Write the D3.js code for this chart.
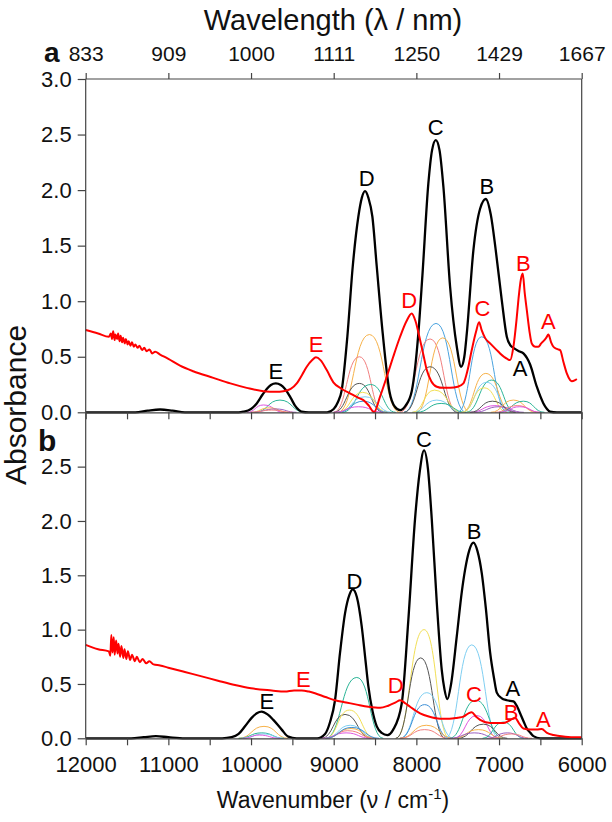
<!DOCTYPE html>
<html>
<head>
<meta charset="utf-8">
<script src="https://cdn.jsdelivr.net/npm/d3@7"></script>
<style>
  body { margin: 0; background: #fff; }
  text { font-family: "Liberation Sans", Arial, Helvetica, sans-serif; }
</style>
</head>
<body>
<div id="chart"></div>
<script>
// wavenumber ticks (cm-1) and matching wavelength labels (nm)
const wnTicks = [12000, 11000, 10000, 9000, 8000, 7000, 6000];
const wlLabels = ["833", "909", "1000", "1111", "1250", "1429", "1667"];
const minorTicks = [12000, 11500, 11000, 10500, 10000, 9500, 9000, 8500, 8000, 7500, 7000, 6500, 6000];
const yTicksA = [0, 0.5, 1, 1.5, 2, 2.5, 3];
const yTicksB = [0, 0.5, 1, 1.5, 2, 2.5];

// panel a: fitted spectrum (black) and measured spectrum (red), [wavenumber, absorbance]
const fitA = [[12000,0],[11400,0],[11250,0.015],[11100,0.025],[10950,0.015],[10800,0],[10150,0],[10093,0.005],
  [10000,0.03],[9931,0.08],[9860,0.16],[9810,0.21],[9760,0.245],[9701,0.26],[9640,0.245],[9589,0.21],[9520,0.13],
  [9468,0.06],[9420,0.02],[9387,0.005],[9300,0],[9080,0],[9000,0.03],[8950,0.09],[8903,0.2],[8835,0.68],[8770,1.31],
  [8702,1.76],[8660,1.93],[8621,1.99],[8580,1.93],[8532,1.76],[8479,1.31],[8407,0.71],[8326,0.19],[8260,0.05],
  [8197,0.02],[8130,0.06],[8056,0.19],[7976,0.71],[7927,1.23],[7855,2.06],[7810,2.36],[7765,2.45],[7720,2.36],
  [7673,2.03],[7592,1.13],[7511,0.59],[7459,0.41],[7420,0.5],[7390,0.71],[7310,1.46],[7230,1.83],[7160,1.92],
  [7100,1.78],[7040,1.46],[6967,1.01],[6906,0.68],[6860,0.6],[6826,0.58],[6760,0.55],[6705,0.53],[6624,0.43],
  [6543,0.23],[6463,0.08],[6420,0.03],[6382,0.005],[6300,0],[6000,0]];

const measA = [[12000,0.74],[11850,0.71],[11720,0.68],[11695,0.71],[11682,0.66],[11668,0.73],[11650,0.65],[11641,0.7],
  [11620,0.66],[11608,0.71],[11590,0.64],[11578,0.69],[11560,0.63],[11548,0.67],[11527,0.62],[11514,0.66],[11492,0.61],
  [11480,0.64],[11458,0.6],[11440,0.63],[11418,0.59],[11400,0.61],[11372,0.58],[11350,0.6],[11318,0.56],[11293,0.58],
  [11262,0.55],[11228,0.565],[11195,0.53],[11160,0.545],[11100,0.52],[11000,0.48],[10859,0.42],[10700,0.37],[10456,0.31],[10250,0.26],[10052,0.22],
  [9851,0.19],[9700,0.185],[9609,0.19],[9520,0.21],[9447,0.26],[9380,0.34],[9326,0.41],[9260,0.47],[9215,0.495],
  [9160,0.47],[9084,0.38],[9004,0.27],[8900,0.21],[8802,0.17],[8700,0.13],[8641,0.11],[8575,0.06],[8512,0.0],
  [8440,0.14],[8358,0.32],[8280,0.5],[8197,0.68],[8120,0.82],[8056,0.89],[8010,0.82],[7955,0.65],[7910,0.5],
  [7874,0.38],[7820,0.28],[7753,0.23],[7680,0.22],[7592,0.22],[7500,0.23],[7431,0.26],[7380,0.38],[7330,0.56],
  [7280,0.72],[7241,0.81],[7210,0.74],[7169,0.67],[7108,0.62],[7027,0.56],[6987,0.53],[6900,0.48],[6866,0.47],
  [6826,0.59],[6790,0.82],[6766,1.01],[6735,1.2],[6713,1.25],[6690,1.08],[6664,0.92],[6630,0.72],[6604,0.62],
  [6560,0.59],[6524,0.59],[6490,0.62],[6463,0.64],[6430,0.67],[6403,0.7],[6370,0.63],[6342,0.59],[6300,0.57],
  [6261,0.56],[6220,0.45],[6180,0.35],[6140,0.29],[6120,0.28],[6080,0.29],[6059,0.3]];

// panel b
const fitB = [[12000,0],[11450,0],[11300,0.01],[11150,0.02],[11000,0.01],[10800,0],[10350,0],[10234,0.01],[10150,0.04],
  [10073,0.11],[9990,0.19],[9930,0.23],[9871,0.245],[9800,0.22],[9730,0.17],[9629,0.08],[9549,0.015],[9450,0],
  [9200,0],[9105,0.04],[9044,0.15],[8984,0.35],[8923,0.79],[8863,1.15],[8810,1.32],[8770,1.37],[8720,1.3],
  [8661,1.03],[8620,0.75],[8581,0.48],[8530,0.25],[8479,0.11],[8420,0.05],[8351,0.03],[8280,0.08],[8177,0.32],
  [8097,1.09],[8016,2.02],[7960,2.45],[7907,2.65],[7860,2.48],[7814,2.02],[7753,1.25],[7693,0.63],[7660,0.45],
  [7625,0.36],[7580,0.5],[7511,0.94],[7450,1.35],[7411,1.55],[7360,1.73],[7310,1.8],[7260,1.72],[7209,1.52],
  [7160,1.2],[7108,0.79],[7060,0.55],[7027,0.42],[6970,0.37],[6906,0.35],[6826,0.34],[6780,0.29],[6745,0.23],
  [6700,0.15],[6664,0.09],[6620,0.05],[6584,0.02],[6500,0],[6000,0]];

const measB = [[12000,0.86],[11850,0.82],[11720,0.8],[11702,0.76],[11690,0.95],[11676,0.79],[11661,0.93],[11650,0.77],
  [11632,0.9],[11615,0.78],[11603,0.87],[11584,0.75],[11568,0.85],[11545,0.74],[11531,0.82],[11508,0.73],[11490,0.8],
  [11462,0.72],[11441,0.77],[11405,0.71],[11382,0.75],[11345,0.7],[11311,0.73],[11268,0.69],[11230,0.71],[11180,0.68],
  [11100,0.67],[11001,0.65],[10800,0.61],[10597,0.57],[10400,0.53],[10194,0.49],[10000,0.46],[9750,0.44],[9589,0.43],
  [9480,0.44],[9387,0.44],[9300,0.43],[9226,0.415],[9100,0.38],[8984,0.35],[8850,0.33],[8721,0.31],[8580,0.29],
  [8439,0.28],[8340,0.3],[8250,0.33],[8197,0.35],[8130,0.32],[8076,0.29],[7955,0.23],[7850,0.2],[7713,0.18],
  [7600,0.18],[7500,0.19],[7431,0.2],[7370,0.23],[7330,0.24],[7280,0.2],[7229,0.17],[7108,0.14],[7000,0.14],
  [6947,0.14],[6880,0.16],[6806,0.19],[6760,0.14],[6705,0.09],[6620,0.08],[6543,0.08],[6483,0.085],[6420,0.05],
  [6342,0.03],[6200,0.015],[6060,0.01],[6000,0.01]];

// component bands: [left foot, centre, right foot, height, colour]
const bandsA = [
  [9950,9650,9350,0.11,"#2bb597"],[10050,9850,9600,0.066,"#e055e0"],[10000,9780,9550,0.04,"#f7b24a"],
  [10000,9700,9450,0.03,"#9b5fc0"],[10000,9750,9500,0.02,"#f28080"],
  [8950,8568,8200,0.70,"#f7b24a"],[9000,8690,8400,0.50,"#f28080"],[9000,8690,8400,0.26,"#555555"],
  [8900,8552,8250,0.25,"#2bb597"],[8950,8621,8300,0.14,"#7fcff2"],[8950,8650,8350,0.18,"#f2df55"],
  [8950,8640,8350,0.10,"#3d8fd6"],[9000,8700,8400,0.05,"#e055e0"],
  [8150,7762,7400,0.80,"#4aa3df"],[8200,7834,7500,0.66,"#f28080"],[8000,7681,7350,0.67,"#f7b24a"],
  [8150,7834,7500,0.41,"#555555"],[8050,7753,7450,0.11,"#7fcff2"],[8050,7780,7450,0.20,"#f2df55"],
  [8000,7700,7400,0.08,"#2bb597"],
  [7500,7209,6900,0.68,"#4aa3df"],[7450,7160,6850,0.35,"#f7b24a"],[7400,7088,6800,0.29,"#2bb597"],
  [7450,7150,6850,0.27,"#7fcff2"],[7450,7180,6900,0.22,"#f2df55"],[7350,7050,6750,0.06,"#e055e0"],
  [7300,7000,6700,0.05,"#9b5fc0"],[7350,7080,6800,0.10,"#555555"],
  [7100,6826,6550,0.11,"#f7b24a"],[7000,6705,6450,0.10,"#2bb597"],[7050,6780,6500,0.06,"#f28080"],
  [7000,6750,6500,0.05,"#e055e0"]
];
const bandsB = [
  [10150,9843,9550,0.11,"#f7b24a"],[10150,9870,9600,0.05,"#2bb597"],[10100,9850,9600,0.04,"#7fcff2"],
  [10100,9900,9650,0.03,"#e055e0"],
  [9100,8721,8400,0.56,"#2bb597"],[9150,8863,8550,0.22,"#555555"],[9100,8810,8500,0.26,"#f2df55"],
  [9100,8800,8500,0.12,"#7fcff2"],[9100,8790,8500,0.09,"#f7b24a"],[9150,8850,8550,0.05,"#e055e0"],
  [9100,8830,8500,0.07,"#f28080"],[9100,8780,8450,0.10,"#3d8fd6"],
  [8250,7907,7600,1.00,"#f2df55"],[8250,7948,7650,0.74,"#555555"],[8200,7874,7550,0.42,"#7fcff2"],
  [8200,7900,7600,0.31,"#3d8fd6"],[8200,7880,7550,0.12,"#f7b24a"],[8200,7900,7600,0.08,"#f28080"],
  [7650,7330,7000,0.86,"#7fcff2"],[7600,7281,6950,0.35,"#2bb597"],[7550,7270,7000,0.21,"#e055e0"],
  [7500,7189,6900,0.13,"#555555"],[7550,7250,6950,0.08,"#f7b24a"],[7600,7300,7000,0.05,"#9b5fc0"],
  [7200,6947,6700,0.15,"#2bb597"],[7150,6900,6650,0.05,"#9b5fc0"],[7100,6850,6600,0.04,"#f28080"]
];

// peak letters: [wavenumber, absorbance, text, colour]
const labelsA = [[9701,0.37,"E","#000"],[8600,2.10,"D","#000"],[7765,2.56,"C","#000"],[7148,2.03,"B","#000"],
  [6745,0.39,"A","#000"],[9214,0.61,"E","red"],[8088,1.01,"D","red"],[7201,0.93,"C","red"],
  [6705,1.34,"B","red"],[6403,0.82,"A","red"]];
const labelsB = [[9810,0.34,"E","#000"],[8750,1.44,"D","#000"],[7907,2.75,"C","#000"],[7302,1.90,"B","#000"],
  [6834,0.46,"A","#000"],[9367,0.54,"E","red"],[8249,0.49,"D","red"],[7302,0.40,"C","red"],
  [6854,0.24,"B","red"],[6463,0.17,"A","red"]];

const width = 612, height = 822;
const left = 85.7, right = 581.7;
const aTop = 79, aBottom = 412.3, bBottom = 738.3;

const svg = d3.select("#chart").append("svg")
  .attr("width", width)
  .attr("height", height);

const x = d3.scaleLinear().domain([12000, 6000]).range([left, right]);
const yA = d3.scaleLinear().domain([0, 3]).range([aBottom, aTop]);
const yB = d3.scaleLinear().domain([0, 3]).range([bBottom, aBottom]);

function drawPanel(y, bands, fit, meas, labels, yTicks, top, bottom, showXLabels) {
  const g = svg.append("g");

  // thin component bands
  g.selectAll("path.band")
    .data(bands)
    .enter()
    .append("path")
    .attr("class", "band")
    .attr("fill", "none")
    .attr("stroke", d => d[4])
    .attr("stroke-width", 1)
    .attr("d", d => d3.line().curve(d3.curveBumpX)
      .x(p => x(p[0])).y(p => y(p[1]))([[d[0], 0], [d[1], d[3]], [d[2], 0]]));

  const line = d3.line().curve(d3.curveMonotoneX).x(d => x(d[0])).y(d => y(d[1]));

  g.append("path")
    .attr("d", line(fit))
    .attr("fill", "none")
    .attr("stroke", "#000")
    .attr("stroke-width", 2.3);

  g.append("path")
    .attr("d", line(meas))
    .attr("fill", "none")
    .attr("stroke", "#ff0000")
    .attr("stroke-width", 2);

  // frame
  g.append("line").attr("x1", right).attr("x2", right).attr("y1", top).attr("y2", bottom)
    .attr("stroke", "#444").attr("stroke-width", 1.2);

  const yAxis = g.append("g")
    .attr("transform", `translate(${left},0)`)
    .call(d3.axisLeft(y).tickValues(yTicks).tickFormat(d3.format(".1f")).tickSize(8).tickSizeOuter(0));
  yAxis.select(".domain").attr("d", `M0,${top}V${bottom}`);

  const xAxis = g.append("g")
    .attr("transform", `translate(0,${bottom})`)
    .call(d3.axisBottom(x).tickValues(minorTicks).tickSize(7).tickSizeOuter(0)
      .tickFormat(d => (showXLabels && d % 1000 === 0) ? d : ""));

  [yAxis, xAxis].forEach(ax => {
    ax.selectAll("path, line").attr("stroke", "#444").attr("stroke-width", 1.2);
    ax.selectAll("text").attr("font-size", 22).attr("fill", "#111");
  });
  yAxis.selectAll("text").attr("x", -14);
  xAxis.selectAll("text").attr("y", 18);

  g.selectAll("text.peak")
    .data(labels)
    .enter()
    .append("text")
    .attr("class", "peak")
    .attr("x", d => x(d[0]))
    .attr("y", d => y(d[1]))
    .attr("text-anchor", "middle")
    .attr("dominant-baseline", "central")
    .attr("font-size", 22)
    .attr("fill", d => d[3])
    .text(d => d[2]);
}

drawPanel(yA, bandsA, fitA, measA, labelsA, yTicksA, aTop, aBottom, false);
drawPanel(yB, bandsB, fitB, measB, labelsB, yTicksB, aBottom, bBottom, true);

// top wavelength axis
const topAxis = svg.append("g")
  .attr("transform", `translate(0,${aTop})`)
  .call(d3.axisTop(x).tickValues(wnTicks).tickSize(6).tickSizeOuter(0)
    .tickFormat((d, i) => wlLabels[i]));
topAxis.select(".domain").attr("d", `M${left},0H${right}`);
topAxis.selectAll("path, line").attr("stroke", "#444").attr("stroke-width", 1.2);
topAxis.selectAll("text").attr("font-size", 21).attr("fill", "#111").attr("y", -18);

// titles
svg.append("text")
  .attr("x", 333).attr("y", 30)
  .attr("text-anchor", "middle")
  .attr("font-size", 29)
  .attr("fill", "#111")
  .text("Wavelength (λ / nm)");

const xTitle = svg.append("text")
  .attr("x", 333).attr("y", 808)
  .attr("text-anchor", "middle")
  .attr("font-size", 23)
  .attr("fill", "#111");
xTitle.append("tspan").text("Wavenumber (ν / cm");
xTitle.append("tspan").attr("dy", -9).attr("font-size", 15).text("-1");
xTitle.append("tspan").attr("dy", 9).text(")");

svg.append("text")
  .attr("transform", "translate(26,405) rotate(-90)")
  .attr("text-anchor", "middle")
  .attr("font-size", 30)
  .attr("fill", "#111")
  .text("Absorbance");

svg.append("text")
  .attr("x", 44).attr("y", 62)
  .attr("font-size", 28)
  .attr("font-weight", "bold")
  .attr("fill", "#111")
  .text("a");

svg.append("text")
  .attr("x", 38).attr("y", 451)
  .attr("font-size", 30)
  .attr("font-weight", "bold")
  .attr("fill", "#111")
  .text("b");
</script>
</body>
</html>
